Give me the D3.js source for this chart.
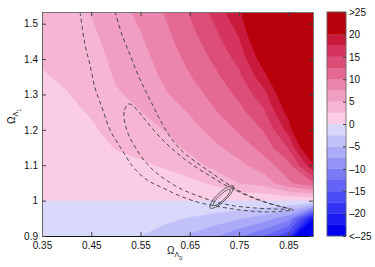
<!DOCTYPE html>
<html>
<head>
<meta charset="utf-8">
<script src="https://cdn.jsdelivr.net/npm/d3@7"></script>
<style>
  body { margin: 0; background: #fff; }
  svg { display: block; font-family: "Liberation Sans", Arial, sans-serif; }
</style>
</head>
<body>
<div id="grafico"></div>
<script>

// Datos

const omegaL0 = [0.35, 0.40, 0.45, 0.50, 0.55, 0.60, 0.65, 0.70, 0.75, 0.80, 0.85, 0.90]
const omegaL1 = [0.90, 0.95, 1.00, 1.05, 1.10, 1.15, 1.20, 1.25, 1.30, 1.35, 1.40, 1.45, 1.50, 1.55]

// una fila por cada valor de omegaL1 (de abajo a arriba)
const valores = [
    [-0.8, -1.2, -1.6, -2.0, -2.5, -3.8, -5.4, -7.2, -9.5, -12.5, -17, -40],
    [-0.4, -0.6, -0.8, -1.0, -1.25, -1.9, -2.7, -3.6, -4.75, -6.25, -9, -22],
    [0, 0, 0, 0, 0, 0, 0, 0, 0, 0, 0, 0],
    [0.33, 0.40, 0.55, 0.88, 1.08, 1.41, 1.86, 2.95, 5.08, 6.0, 9.5, 12.3],
    [0.67, 0.80, 1.09, 1.76, 2.17, 2.76, 3.96, 5.68, 6.88, 8.76, 11.6, 19.5],
    [1.0, 1.20, 1.63, 2.61, 3.13, 3.92, 5.56, 6.97, 8.65, 10.89, 15.1, 25],
    [1.33, 1.60, 2.18, 3.33, 4.04, 5.08, 6.62, 8.33, 10.31, 12.64, 18.37, 30],
    [1.67, 2.0, 2.68, 4.05, 4.95, 6.16, 7.68, 9.75, 11.68, 14.52, 21, 33],
    [2.0, 2.4, 3.11, 4.76, 5.52, 7.25, 8.76, 10.85, 13.04, 16.52, 23, 36],
    [2.34, 2.79, 3.54, 5.23, 6.07, 7.97, 9.85, 11.88, 14.36, 19.1, 25, 38],
    [2.67, 3.18, 3.97, 5.58, 6.62, 8.57, 10.65, 12.92, 15.77, 21.5, 27, 40],
    [3.0, 3.56, 4.40, 5.93, 7.17, 9.18, 11.4, 13.97, 17.26, 23.5, 29, 42],
    [3.34, 3.95, 4.83, 6.27, 7.73, 9.78, 12.16, 15.03, 18.55, 25.5, 31, 44],
    [3.67, 4.33, 5.26, 6.62, 8.32, 10.38, 12.9, 16.3, 19.8, 27.5, 33, 46]
]

const umbrales = [-22.5, -20, -17.5, -15, -12.5, -10, -7.5, -5, -2.5, 0, 2.5, 5, 7.5, 10, 12.5, 15, 17.5, 20]

const ticksX = [0.35, 0.45, 0.55, 0.65, 0.75, 0.85]
const ticksY = [0.9, 1.0, 1.1, 1.2, 1.3, 1.4, 1.5]
const ticksBarra = [-25, -20, -15, -10, -5, 0, 5, 10, 15, 20, 25]
const etiquetasBarra = ["<\u201325", "\u201320", "\u201315", "\u201310", "\u20135", "0", "5", "10", "15", "20", ">25"]

// contornos discontinuos
const contornoExterior = [
    [0.4272, 1.533], [0.4374, 1.4396], [0.4475, 1.3831], [0.4577, 1.3181], [0.4720, 1.2616],
    [0.4882, 1.1994], [0.5126, 1.1429], [0.5350, 1.0949], [0.5634, 1.0582], [0.5959, 1.0356],
    [0.6305, 1.0130], [0.6650, 0.9960], [0.7016, 0.9847], [0.7382, 0.9763], [0.7728, 0.9706],
    [0.8093, 0.9678], [0.8398, 0.9706], [0.8602, 0.9734], [0.8378, 0.9819], [0.8093, 0.9932],
    [0.7768, 1.0102], [0.7463, 1.0299], [0.7179, 1.0554], [0.6915, 1.0808], [0.6650, 1.1062],
    [0.6366, 1.1373], [0.6102, 1.1797], [0.5898, 1.2277], [0.5736, 1.2729], [0.5593, 1.3124],
    [0.5451, 1.3548], [0.5289, 1.4113], [0.5126, 1.4678], [0.4984, 1.533]
]

const contornoInterior = [
    [0.5248, 1.2729], [0.5167, 1.2503], [0.5187, 1.2164], [0.5268, 1.1825], [0.5390, 1.1514],
    [0.5553, 1.1175], [0.5756, 1.0864], [0.6020, 1.0582], [0.6325, 1.0328], [0.6671, 1.0130],
    [0.7037, 0.9960], [0.7423, 0.9847], [0.7829, 0.9791], [0.8236, 0.9763], [0.8541, 0.9763],
    [0.8297, 0.9847], [0.8012, 0.9960], [0.7728, 1.0102], [0.7463, 1.0271], [0.7179, 1.0469],
    [0.6915, 1.0695], [0.6650, 1.0921], [0.6366, 1.1203], [0.6102, 1.1514], [0.5837, 1.1881],
    [0.5614, 1.2249], [0.5451, 1.2531], [0.5329, 1.2701]
]

// contornos continuos (elipses)
const elipseExterior = [
    [0.7384, 1.0415], [0.7360, 1.0257], [0.7211, 1.0008], [0.7026, 0.9816],
    [0.6913, 0.9788], [0.6937, 0.9946], [0.7085, 1.0195], [0.7270, 1.0387]
]
const elipseInterior = [
    [0.7317, 1.0314], [0.7297, 1.0206], [0.7187, 1.0031], [0.7057, 0.9887],
    [0.6980, 0.9862], [0.7000, 0.9969], [0.7110, 1.0144], [0.7240, 1.0288]
]

// Colores de cada banda (de <-22.5 a >=20)
const colores = [
    "#0303f0", "#1a1af2", "#3333f3", "#4b4bf4", "#6363f5", "#7b7bf6", "#9393f7", "#ababf8", "#c2c2f9", "#d8d8fb",
    "#fbcde5", "#f6b5d3", "#f19ec3", "#eb85ad", "#e46a94", "#dc4e78", "#d4345d", "#c91a3c", "#b8000c"
]

const ancho = 375, alto = 267
const margen = { izq: 42, der: 313, sup: 12, inf: 236 }

const svg = d3.select('#grafico')
    .append('svg')
    .attr('width', ancho)
    .attr('height', alto)

// Escalas
const x = d3.scaleLinear().domain([0.35, 0.9]).range([margen.izq, margen.der])
const y = d3.scaleLinear().domain([0.9, 1.533]).range([margen.inf, margen.sup])

svg.append('clipPath').attr('id', 'recorte')
    .append('rect')
    .attr('x', margen.izq).attr('y', margen.sup)
    .attr('width', margen.der - margen.izq).attr('height', margen.inf - margen.sup)

const mapa = svg.append('g').attr('clip-path', 'url(#recorte)')

// fondo = banda mas baja
mapa.append('rect')
    .attr('x', margen.izq).attr('y', margen.sup)
    .attr('width', margen.der - margen.izq).attr('height', margen.inf - margen.sup)
    .attr('fill', colores[0])

// Bandas con d3.contours
const nx = omegaL0.length, ny = omegaL1.length
const pasoX = omegaL0[1] - omegaL0[0], pasoY = omegaL1[1] - omegaL1[0]

const contornos = d3.contours()
    .size([nx, ny])
    .thresholds(umbrales)(valores.flat())

const proyeccion = d3.geoTransform({
    point: function (gx, gy) {
        this.stream.point(x(omegaL0[0] + (gx - 0.5) * pasoX), y(omegaL1[0] + (gy - 0.5) * pasoY))
    }
})
const ruta = d3.geoPath(proyeccion)

mapa.selectAll('path.banda')
    .data(contornos)
    .join('path')
    .attr('class', 'banda')
    .attr('d', ruta)
    .attr('fill', (d, i) => colores[i + 1])
    .attr('stroke', (d, i) => colores[i + 1])
    .attr('stroke-width', 0.4)

// Contornos discontinuos
const linea = d3.line().x(d => x(d[0])).y(d => y(d[1]))

mapa.append('path')
    .attr('d', linea.curve(d3.curveCatmullRom)(contornoExterior))
    .attr('fill', 'none').attr('stroke', '#3c3c3c').attr('stroke-width', 0.9)
    .attr('stroke-dasharray', '4,3')

mapa.append('path')
    .attr('d', linea.curve(d3.curveCatmullRomClosed)(contornoInterior))
    .attr('fill', 'none').attr('stroke', '#3c3c3c').attr('stroke-width', 0.9)
    .attr('stroke-dasharray', '4,3')

mapa.selectAll('path.elipse')
    .data([elipseExterior, elipseInterior])
    .join('path')
    .attr('class', 'elipse')
    .attr('d', d => linea.curve(d3.curveCatmullRomClosed)(d))
    .attr('fill', 'none').attr('stroke', '#4a4a4a').attr('stroke-width', 0.9)

// Ejes
const formatoY = d => String(+d.toFixed(1))

const ejeX = svg.append('g')
    .attr('transform', `translate(0, ${margen.inf})`)
    .call(d3.axisBottom(x).tickValues(ticksX).tickSize(-4).tickSizeOuter(0).tickPadding(6).tickFormat(d3.format('.2f')))
const ejeXsup = svg.append('g')
    .attr('transform', `translate(0, ${margen.sup})`)
    .call(d3.axisTop(x).tickValues(ticksX).tickSize(-4).tickSizeOuter(0).tickFormat(''))
const ejeY = svg.append('g')
    .attr('transform', `translate(${margen.izq}, 0)`)
    .call(d3.axisLeft(y).tickValues(ticksY).tickSize(-4).tickSizeOuter(0).tickPadding(4).tickFormat(formatoY))
const ejeYder = svg.append('g')
    .attr('transform', `translate(${margen.der}, 0)`)
    .call(d3.axisRight(y).tickValues(ticksY).tickSize(-4).tickSizeOuter(0).tickFormat(''))

ejeX.select('.domain').attr('stroke', '#111')
ejeY.select('.domain').attr('stroke', '#666')
ejeXsup.select('.domain').attr('stroke', '#777')
ejeYder.select('.domain').attr('stroke', '#777')
svg.selectAll('.tick line').attr('stroke', '#444')
svg.selectAll('.tick text').attr('font-size', 10).attr('fill', '#111').attr('font-family', '"Liberation Sans", Arial, sans-serif')

// Etiquetas de los ejes
const etiquetaX = svg.append('text')
    .attr('x', 167).attr('y', 254)
    .attr('font-size', 10).attr('fill', '#111')
etiquetaX.append('tspan').text('\u03A9')
etiquetaX.append('tspan').attr('font-size', 7).attr('dy', 3).text('\u039B')
etiquetaX.append('tspan').attr('font-size', 5.5).attr('dy', 3).text('0')

const etiquetaY = svg.append('text')
    .attr('transform', 'translate(15, 124) rotate(-90)')
    .attr('font-size', 10).attr('fill', '#111')
etiquetaY.append('tspan').text('\u03A9')
etiquetaY.append('tspan').attr('font-size', 7).attr('dy', 3).text('\u039B')
etiquetaY.append('tspan').attr('font-size', 5.5).attr('dy', 3).text('1')

// Barra de colores
const c = d3.scaleLinear().domain([-25, 25]).range([margen.inf, margen.sup])
const bordes = [-25, ...umbrales, 25]
const barra = svg.append('g')

barra.selectAll('rect')
    .data(d3.pairs(bordes))
    .join('rect')
    .attr('x', 327)
    .attr('width', 19)
    .attr('y', d => c(d[1]))
    .attr('height', d => c(d[0]) - c(d[1]))
    .attr('fill', (d, i) => colores[i])
    .attr('stroke', (d, i) => colores[i])
    .attr('stroke-width', 0.3)

barra.append('rect')
    .attr('x', 327).attr('y', margen.sup)
    .attr('width', 19).attr('height', margen.inf - margen.sup)
    .attr('fill', 'none').attr('stroke', '#666').attr('stroke-width', 0.8)

const ejeBarra = svg.append('g')
    .attr('transform', 'translate(346, 0)')
    .call(d3.axisRight(c).tickValues(ticksBarra).tickSize(-3).tickSizeOuter(0).tickPadding(3)
        .tickFormat((d, i) => etiquetasBarra[i]))
ejeBarra.select('.domain').remove()
ejeBarra.selectAll('.tick line').attr('stroke', '#444')
ejeBarra.selectAll('.tick text').attr('font-size', 10).attr('fill', '#111')

</script>
</body>
</html>
